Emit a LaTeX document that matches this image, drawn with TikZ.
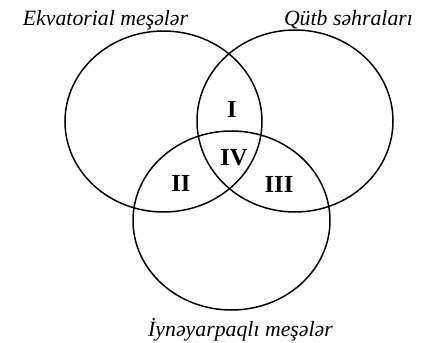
\documentclass[tikz,border=0pt]{standalone}
\usepackage{fontspec}
\setmainfont{Liberation Serif}
\begin{document}
\begin{tikzpicture}[x=1pt,y=-1pt,
  ring/.style={draw=black,line width=1.5pt},
  title/.style={font=\fontsize{21.8}{24}\selectfont\itshape,inner sep=0pt,anchor=base},
  roman/.style={font=\fontsize{24.5}{26}\selectfont\bfseries,inner sep=0pt}]
\useasboundingbox (0,0) rectangle (424,343);
\draw[ring] (163.5,121.5) ellipse [x radius=98.5,y radius=90.5];
\draw[ring] (295,121) ellipse [x radius=98,y radius=91];
\draw[ring] (231.5,220.5) ellipse [x radius=98.5,y radius=89.5];
\node[title] (ek) at (105.5,25) {Ekvatorial meşələr};
\node[title] (qu) at (348.5,25) {Qütb səhraları};
\node[title] (iy) at (240.5,336) {İynəyarpaqlı meşələr};
\node[roman] (r1) at (232,109) {I};
\node[roman] (r4) at (234,158) {IV};
\node[roman] (r2) at (181,183) {II};
\node[roman] (r3) at (279,184) {III};
\end{tikzpicture}
\end{document}
